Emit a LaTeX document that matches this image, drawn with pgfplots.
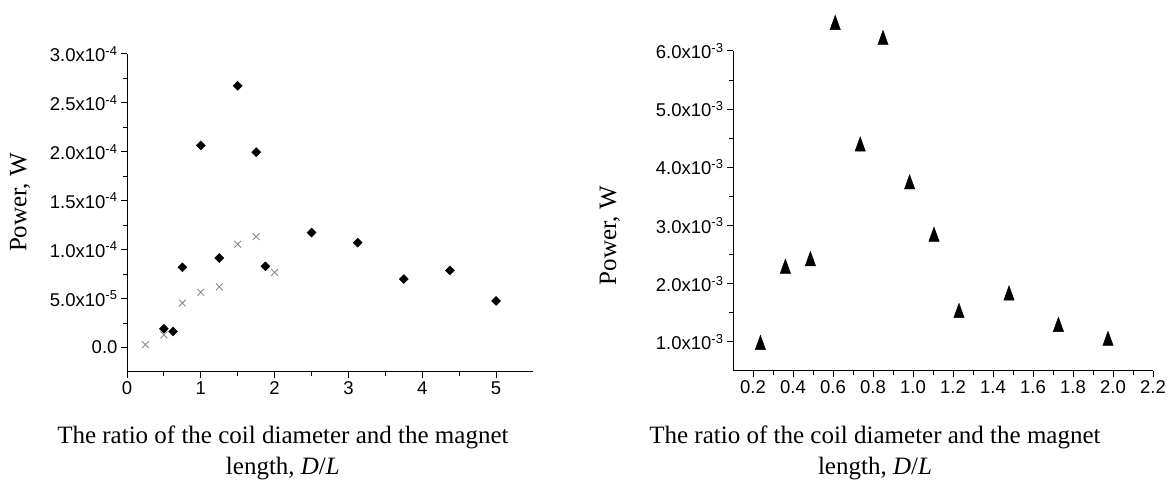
\documentclass[border=0pt]{standalone}
\usepackage{fontspec}
\setmainfont{Liberation Serif}
\setsansfont{Liberation Sans}
\usepackage{pgfplots}
\pgfplotsset{compat=1.18}
\definecolor{crossgray}{RGB}{140,140,140}
\pgfplotsset{
  myaxis/.style={
    scale only axis,
    axis lines*=left,
    axis line style={line width=1pt,black},
    tick align=outside,
    major tick length=6pt,
    minor tick length=4pt,
    every tick/.style={line width=1pt,black},
    tick label style={font=\sffamily\fontsize{18.5}{19}\selectfont},
    label style={font=\fontsize{25}{31}\selectfont},
    scaled ticks=false,
    minor x tick num=1,
    minor y tick num=1,
    clip=false,
  }
}
\begin{document}
\begin{tikzpicture}[x=1pt,y=1pt]
\path[use as bounding box] (0,0) rectangle (1172,486);
\begin{axis}[myaxis,
  at={(127pt,114pt)}, anchor=south west,
  width=406pt, height=318pt,
  xmin=0, xmax=5.5, ymin=-2.5e-5, ymax=3e-4,
  xtick={0,1,2,3,4,5}, xticklabels={0,1,2,3,4,5},
  ytick={0,5e-5,1e-4,1.5e-4,2e-4,2.5e-4,3e-4},
  yticklabels={0.0,5.0x10\textsuperscript{-5},1.0x10\textsuperscript{-4},1.5x10\textsuperscript{-4},2.0x10\textsuperscript{-4},2.5x10\textsuperscript{-4},3.0x10\textsuperscript{-4}},
  xlabel={The ratio of the coil diameter and the magnet\\length, \textit{D}/\textit{L}},
  xlabel style={at={(axis description cs:0.384,-0.17)}, anchor=north, align=center, inner sep=0pt},
  ylabel={Power, W},
  ylabel style={at={(axis description cs:-0.2635,0.533)}, anchor=center, inner sep=0pt},
]
\addplot[only marks, mark=square*, mark size=3.2pt, mark options={rotate=45, fill=black, draw=black}] coordinates {
(0.5,1.92e-5) (0.625,1.64e-5) (0.75,8.2e-5) (1.0,2.066e-4) (1.25,9.15e-5) (1.5,2.675e-4)
(1.75,1.997e-4) (1.875,8.3e-5) (2.5,1.175e-4) (3.125,1.072e-4) (3.75,7.0e-5) (4.375,7.88e-5) (5.0,4.76e-5)
};
\addplot[only marks, mark=x, mark size=4.8pt, mark options={draw=crossgray, line width=0.9pt}] coordinates {
(0.25,3e-6) (0.5,1.3e-5) (0.75,4.55e-5) (1.0,5.65e-5) (1.25,6.2e-5) (1.5,1.055e-4) (1.75,1.134e-4) (2.0,7.68e-5)
};
\end{axis}
\begin{axis}[myaxis,
  at={(733pt,115pt)}, anchor=south west,
  width=420pt, height=320pt,
  xmin=0.1, xmax=2.2, ymin=0.5e-3, ymax=6e-3,
  xtick={0.2,0.4,0.6,0.8,1.0,1.2,1.4,1.6,1.8,2.0,2.2},
  xticklabels={0.2,0.4,0.6,0.8,1.0,1.2,1.4,1.6,1.8,2.0,2.2},
  ytick={1e-3,2e-3,3e-3,4e-3,5e-3,6e-3},
  yticklabels={1.0x10\textsuperscript{-3},2.0x10\textsuperscript{-3},3.0x10\textsuperscript{-3},4.0x10\textsuperscript{-3},5.0x10\textsuperscript{-3},6.0x10\textsuperscript{-3}},
  xlabel={The ratio of the coil diameter and the magnet\\length, \textit{D}/\textit{L}},
  xlabel style={at={(axis description cs:0.338,-0.17)}, anchor=north, align=center, inner sep=0pt},
  ylabel={Power, W},
  ylabel style={at={(axis description cs:-0.293,0.423)}, anchor=center, inner sep=0pt},
]
\addplot[only marks, mark=triangle*, mark size=6pt, mark options={yscale=1.6, fill=black, draw=black}] coordinates {
(0.237,0.95e-3) (0.362,2.26e-3) (0.487,2.39e-3) (0.611,6.45e-3) (0.736,4.36e-3) (0.85,6.19e-3)
(0.983,3.71e-3) (1.105,2.81e-3) (1.23,1.50e-3) (1.48,1.80e-3) (1.727,1.26e-3) (1.975,1.02e-3)
};
\end{axis}
\end{tikzpicture}
\end{document}
